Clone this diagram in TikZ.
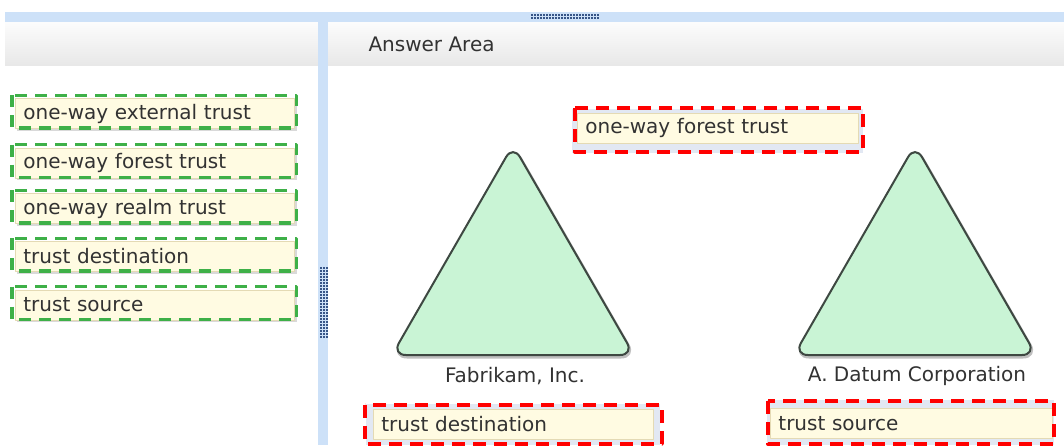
\documentclass[tikz,border=0pt]{standalone}
\usepackage{fontspec}
\setmainfont{DejaVu Sans}
\definecolor{barblue}{RGB}{205,225,248}
\definecolor{gripblue}{RGB}{55,85,135}
\definecolor{hdrtop}{RGB}{252,252,252}
\definecolor{hdrbot}{RGB}{232,232,232}
\definecolor{cream}{RGB}{255,251,226}
\definecolor{creamedge}{RGB}{228,218,180}
\definecolor{boxbg}{RGB}{226,232,243}
\definecolor{dashgreen}{RGB}{62,176,72}
\definecolor{trifill}{RGB}{201,244,213}
\definecolor{triline}{RGB}{62,72,66}
\definecolor{txtgray}{RGB}{50,50,50}
\tikzset{
  card/.style={fill=cream, draw=creamedge, line width=0.8pt, anchor=west, inner xsep=8pt, inner ysep=0pt,
    minimum height=30pt, text width=#1, align=left, text=txtgray},
  greendash/.style={draw=dashgreen, line width=3.2pt, dash pattern=on 12pt off 8pt},
  reddash/.style={draw=red, line width=3.4pt, dash pattern=on 13pt off 8pt},
  tri/.style={fill=trifill, draw=triline, line width=2pt, rounded corners=14pt},
  lbl/.style={text=txtgray}
}
\begin{document}
\begin{tikzpicture}[x=1pt, y=-1pt, font=\fontsize{20}{24}\selectfont, line join=round]
\useasboundingbox (0,0) rectangle (1064,445);
\fill[white] (0,0) rectangle (1064,445);
\fill[barblue] (5,12) rectangle (1064,22);
\shade[top color=hdrtop, bottom color=hdrbot] (5,22) rectangle (318,65);
\shade[top color=hdrtop, bottom color=hdrbot] (328,22) rectangle (1064,65);
\fill[barblue] (318,12) rectangle (328,445);
\foreach \x in {531,534,...,599}{\foreach \y in {13.5,17}{\fill[gripblue] (\x,\y) rectangle ++(2,2);}}
\foreach \x in {319.5,322.5,325.5}{\foreach \y in {267,270,...,336}{\fill[gripblue] (\x,\y) rectangle ++(2,2);}}
\node[lbl, anchor=west] (hdr) at (365,44) {Answer Area};
\foreach \y/\l [count=\i] in {113.5/one-way external trust, 163/one-way forest trust, 208.5/one-way realm trust, 256.5/trust destination, 305/trust source}{
  \fill[black!15] (17,\y-13) rectangle (297,\y+17);
  \node[card=263pt] (opt\i) at (15,\y) {\l};
  \draw[greendash] ([xshift=-3pt,yshift=3pt]opt\i.north west) rectangle ([xshift=2pt,yshift=1pt]opt\i.south east);
}
\foreach \cx/\name/\lab in {513/fab/{Fabrikam, Inc.}, 915/datum/{A. Datum Corporation}}{
  \draw[black!25, line width=3pt, rounded corners=14pt] (\cx+1,147) -- (\cx+122,357) -- (\cx-120,357) -- cycle;
  \draw[tri] (\cx,145) -- (\cx+121,355) -- (\cx-121,355) -- cycle;
  \node[lbl] (\name) at (\cx+2,376) {\lab};
}
\fill[boxbg] (572,109) rectangle (863,153);
\node[card=265pt] (ans1) at (577,128) {one-way forest trust};
\draw[reddash] (575,108) rectangle (863,152);
\fill[boxbg] (366,404) rectangle (660,445);
\node[card=264pt] (ans2) at (373,424) {trust destination};
\draw[reddash] (365,405) rectangle (662,444);
\fill[boxbg] (767,400) rectangle (1054,445);
\node[card=266pt] (ans3) at (770,423.5) {trust source};
\draw[reddash] (768,401) rectangle (1054,444);
\end{tikzpicture}
\end{document}
